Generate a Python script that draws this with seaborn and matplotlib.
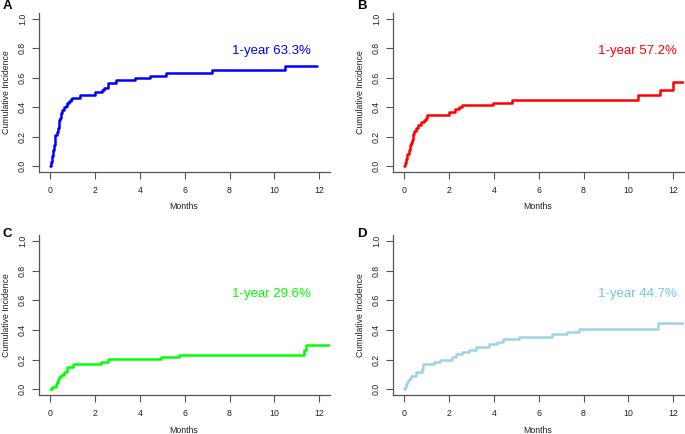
import numpy as np
import pandas as pd
import matplotlib
matplotlib.use("Agg")
import matplotlib.pyplot as plt
import seaborn as sns

# ---- data ----
months_a = [0, 0.04, 0.08, 0.12, 0.16, 0.2, 0.24, 0.3, 0.36, 0.4, 0.45, 0.5, 0.55, 0.6, 0.7,
            0.77, 0.85, 0.92, 1.0, 1.32, 2.0, 2.3, 2.42, 2.58, 2.92, 3.8, 4.47, 5.17, 7.24,
            10.47, 11.9]
cuminc_a = [0, 0.03, 0.07, 0.11, 0.14, 0.18, 0.21, 0.23, 0.26, 0.31, 0.33, 0.36, 0.38, 0.40, 0.41,
            0.43, 0.44, 0.455, 0.465, 0.48, 0.50, 0.515, 0.53, 0.565, 0.585, 0.60, 0.615, 0.632, 0.652,
            0.683, 0.683]

months_b = [0, 0.05, 0.1, 0.15, 0.2, 0.25, 0.3, 0.36, 0.42, 0.46, 0.55, 0.6, 0.75, 0.9, 0.97,
            1.02, 2.0, 2.25, 2.43, 2.6, 3.97, 4.8, 10.43, 11.4, 11.98, 12.47]
cuminc_b = [0, 0.02, 0.05, 0.08, 0.11, 0.14, 0.16, 0.18, 0.22, 0.24, 0.26, 0.28, 0.30, 0.315, 0.33,
            0.35, 0.365, 0.385, 0.40, 0.415, 0.432, 0.45, 0.48, 0.517, 0.571, 0.571]

months_c = [0, 0.1, 0.25, 0.3, 0.36, 0.42, 0.47, 0.62, 0.74, 1.04, 2.26, 2.6, 4.95, 5.73,
            11.33, 11.42, 12.47]
cuminc_c = [0, 0.017, 0.034, 0.05, 0.067, 0.085, 0.10, 0.118, 0.15, 0.168, 0.185, 0.202, 0.218, 0.234,
            0.265, 0.296, 0.296]

months_d = [0, 0.04, 0.08, 0.12, 0.18, 0.25, 0.32, 0.53, 0.8, 0.84, 1.32, 1.6, 2.12, 2.3, 2.58,
            2.9, 3.22, 3.8, 4.13, 4.43, 5.14, 6.6, 7.25, 7.8, 11.3, 12.47]
cuminc_d = [0, 0.018, 0.034, 0.05, 0.065, 0.077, 0.088, 0.117, 0.14, 0.168, 0.184, 0.2, 0.218, 0.236, 0.252,
            0.268, 0.286, 0.304, 0.32, 0.336, 0.353, 0.37, 0.388, 0.41, 0.447, 0.447]

panel_letters = ["A", "B", "C", "D"]
one_year_labels = ["1-year 63.3%", "1-year 57.2%", "1-year 29.6%", "1-year 44.7%"]
line_colors = ["#0000FF", "#FF0000", "#00FF00", "#9ED3E8"]
text_colors = ["#0000FF", "#FF0000", "#00FF00", "#6CC8EE"]
x_ticks = [0, 2, 4, 6, 8, 10, 12]
y_ticks = [0.0, 0.2, 0.4, 0.6, 0.8, 1.0]
y_tick_labels = ["0.0", "0.2", "0.4", "0.6", "0.8", "1.0"]

# ---- style ----
sns.set_theme(style="white")
plt.rcParams["font.family"] = ["Liberation Sans", "DejaVu Sans"]

W, H = 685, 434
fig = plt.figure(figsize=(W / 100, H / 100), dpi=100)

# axes boxes in pixel coords: (left, top, right, bottom)
boxes = [(39.3, 13, 330, 172), (393.3, 13, 684, 172),
         (39.3, 235, 330, 395.3), (393.3, 235, 684, 395.3)]
letter_pos = [(7.5, 6), (362, 6), (7.5, 234), (362, 234)]
text_pos = [(9.86, 0.78), (10.4, 0.78), (9.86, 0.64), (10.4, 0.64)]

series = [(months_a, cuminc_a), (months_b, cuminc_b), (months_c, cuminc_c), (months_d, cuminc_d)]
spine_col = "#555555"

for i, (l, t, r, b) in enumerate(boxes):
    ax = fig.add_axes([l / W, 1 - b / H, (r - l) / W, (b - t) / H])
    df = pd.DataFrame({"Months": series[i][0], "Cumulative Incidence": series[i][1]})
    sns.lineplot(data=df, x="Months", y="Cumulative Incidence", ax=ax,
                 drawstyle="steps-post", color=line_colors[i], linewidth=1.8,
                 estimator=None, legend=False)
    ax.set_xlim(-0.48, 12.48)
    ax.set_ylim(-0.04, 1.04)
    ax.set_xticks(x_ticks)
    ax.set_xticklabels([str(v) for v in x_ticks])
    ax.set_yticks(y_ticks)
    ax.set_yticklabels(y_tick_labels, rotation=90, va="center")
    ax.tick_params(axis="both", which="both", length=5, width=0.8, color=spine_col,
                   labelsize=6.3, labelcolor="#222222", direction="out",
                   bottom=True, left=True)
    ax.tick_params(axis="x", pad=5)
    ax.tick_params(axis="y", pad=4)
    for s in ["top", "right"]:
        ax.spines[s].set_visible(False)
    for s in ["left", "bottom"]:
        ax.spines[s].set_color(spine_col)
        ax.spines[s].set_linewidth(0.9)
    ax.set_facecolor("white")
    ax.grid(False)
    ax.set_xlabel("Months", fontsize=6.3, color="#222222", va="center")
    ax.set_ylabel("Cumulative Incidence", fontsize=6.3, color="#222222", va="center")
    ax.xaxis.set_label_coords(0.498, -0.22)
    ax.yaxis.set_label_coords(-0.112, 0.5)
    ax.text(text_pos[i][0], text_pos[i][1], one_year_labels[i], color=text_colors[i],
            fontsize=9.5, ha="center", va="center")
    fig.text(letter_pos[i][0] / W, 1 - letter_pos[i][1] / H, panel_letters[i],
             fontsize=9.5, fontweight="bold", ha="center", va="center", color="black")

fig.savefig("out.png", dpi=100, facecolor="white")
